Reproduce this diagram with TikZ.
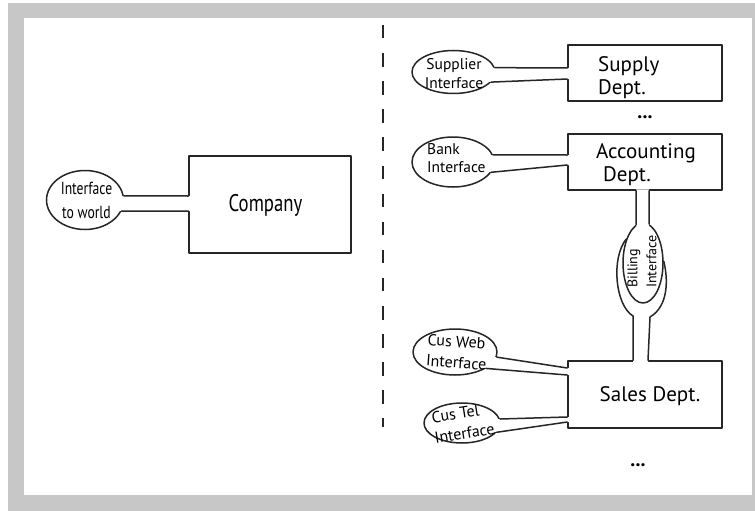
\documentclass[tikz,border=0pt]{standalone}
\usepackage{fontspec}
\setmainfont{PT Sans}
\newfontfamily\condfont{PT Sans}[FakeStretch=0.78]
\usetikzlibrary{shapes.geometric,calc}

\begin{document}
\begin{tikzpicture}[x=1pt,y=-1pt,
  ink/.style={draw=black!85, line width=1.5pt, line join=round, line cap=round},
  dept/.style={ink, rectangle, fill=white, inner sep=0pt},
  iface/.style={ink, ellipse, fill=white, inner sep=0pt},
  gap/.style={fill=white, draw=none},
  txt/.style={text=black, inner sep=0pt},
  big/.style={txt, font=\fontsize{21}{22.5}\selectfont, align=left},
  small/.style={txt, font=\fontsize{15.5}{19}\selectfont},
  dots/.style={txt, font=\fontsize{20}{20}\selectfont\bfseries}
]
\useasboundingbox (0,0) rectangle (755,511);

% page frame
\fill[black!22] (8,3) rectangle (755,511);
\fill[white] (24,18) rectangle (752,495);

% divider between the company view and the departments view
\coordinate (divtop) at (383,25);
\coordinate (divbot) at (383,427);
\draw[ink, line cap=butt, dash pattern=on 13.5pt off 14.6pt] (divtop) -- (divbot);

% ---------------- company as a whole ----------------
\node[dept, minimum width=162pt, minimum height=97pt] (co) at (270,204.5) {};
\node[iface, minimum width=77pt, minimum height=59pt] (iw) at (85,200) {};
\fill[gap] (iw.center) -- (iw.6) -- ([xshift=1.5pt,yshift=8.5pt]co.west)
  -- ([xshift=1.5pt,yshift=-6.5pt]co.west) -- (iw.-17) -- cycle;
\draw[ink] (iw.6) -- ([yshift=8.5pt]co.west) (iw.-17) -- ([yshift=-6.5pt]co.west);
\node[txt, font=\condfont\fontsize{17.5}{24}\selectfont, align=center] (iwt) at (86.5,200.5) {Interface\\to world};
\node[txt, font=\condfont\fontsize{24}{28}\selectfont, anchor=base] (cot) at (265.5,211) {Company};

% ---------------- supply department ----------------
\node[dept, minimum width=154pt, minimum height=56pt] (sup) at (645,73) {};
\node[iface, minimum width=83pt, minimum height=43pt] (supi) at (453.5,72) {};
\fill[gap] (supi.center) -- (supi.6) -- ([xshift=1.5pt,yshift=5pt]sup.west)
  -- ([xshift=1.5pt,yshift=-6pt]sup.west) -- (supi.-15) -- cycle;
\draw[ink] (supi.6) -- ([yshift=5pt]sup.west) (supi.-15) -- ([yshift=-6pt]sup.west);
\node[small, align=center] (supit) at (454,74) {Supplier\\Interface};
\node[big, anchor=west] (supt) at (598,77.8) {Supply\\Dept.};
\node[dots] (dots1) at (645,117) {...};

% ---------------- accounting department ----------------
\node[dept, minimum width=154pt, minimum height=56pt] (acc) at (645,162) {};
\node[iface, minimum width=82pt, minimum height=50pt] (bank) at (453,162) {};
\fill[gap] (bank.center) -- (bank.10) -- ([xshift=1.5pt,yshift=7pt]acc.west)
  -- ([xshift=1.5pt,yshift=-3pt]acc.west) -- (bank.-15) -- cycle;
\draw[ink] (bank.10) -- ([yshift=7pt]acc.west) (bank.-15) -- ([yshift=-3pt]acc.west);
\node[txt, font=\fontsize{15.5}{18}\selectfont, align=left, anchor=west] (bankt) at (427,158.5) {Bank\\Interface};
\node[big, anchor=west] (acct) at (596,164.8) {Accounting\\\hspace*{7pt}Dept.};

% ---------------- sales department ----------------
\node[dept, minimum width=154pt, minimum height=67pt] (sal) at (645,394.5) {};
\node[txt, font=\fontsize{21}{22}\selectfont, anchor=base] (salt) at (650,401.7) {Sales Dept.};

% billing interface between accounting and sales
\node[iface, minimum width=40pt, minimum height=80pt] (bil) at (643,263) {};
\fill[gap] (bil.center) -- (bil.100) -- ([xshift=-9pt,yshift=1.5pt]acc.south)
  -- ([xshift=4pt,yshift=1.5pt]acc.south) -- (bil.81) -- cycle;
\draw[ink] (bil.100) -- ([xshift=-9pt]acc.south) (bil.81) -- ([xshift=4pt]acc.south);
\coordinate (oL) at (633,316);
\coordinate (oR) at (650,317);
\fill[gap] (oL) -- ([xshift=-12pt,yshift=-1.5pt]sal.north)
  -- ([xshift=3pt,yshift=-1.5pt]sal.north) -- (oR) -- cycle;
\draw[ink] ([xshift=-12pt]sal.north) -- (oL) .. controls (615,305) and (611,258) .. (bil.125);
\draw[ink] ([xshift=3pt]sal.north) -- (oR) .. controls (669,306) and (668,278) .. (bil.5);
\node[txt, font=\fontsize{14}{19}\selectfont, rotate=90, align=left] (bilt) at (642,261.5) {Billing\\Interface};

% customer web interface
\node[iface, minimum width=84pt, minimum height=46pt] (web) at (455,352) {};
\fill[gap] (web.center) -- (web.-7) -- ([xshift=1.5pt,yshift=26.5pt]sal.west)
  -- ([xshift=1.5pt,yshift=19.5pt]sal.west) -- (web.-28) -- cycle;
\draw[ink] (web.-7) -- ([yshift=26.5pt]sal.west) (web.-28) -- ([yshift=19.5pt]sal.west);
\node[txt, font=\fontsize{16}{21}\selectfont, align=left, rotate=-4] (webt) at (457,352) {Cus Web\\Interface};

% customer telephone interface
\node[iface, minimum width=76pt, minimum height=40pt] (tel) at (462,423) {};
\fill[gap] (tel.center) -- (tel.6) -- ([xshift=1.5pt,yshift=-22.5pt]sal.west)
  -- ([xshift=1.5pt,yshift=-27.5pt]sal.west) -- (tel.-15) -- cycle;
\draw[ink] (tel.6) -- ([yshift=-22.5pt]sal.west) (tel.-15) -- ([yshift=-27.5pt]sal.west);
\node[txt, font=\fontsize{16}{20.5}\selectfont, align=left, rotate=9] (telt) at (463,423) {Cus Tel\\Interface};

\node[dots] (dots2) at (638,465) {...};
\end{tikzpicture}
\end{document}
